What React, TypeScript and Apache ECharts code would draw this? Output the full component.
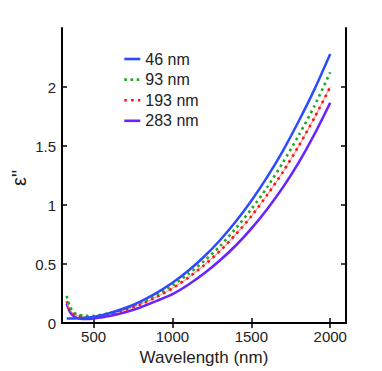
import React, { useEffect, useRef } from "react";
import * as echarts from "echarts";

const wavelengths = [330, 350, 375, 400, 450, 500, 600, 700, 800, 900, 1000, 1100, 1200, 1300, 1400, 1500, 1600, 1700, 1800, 1900, 2000];
const blue46 = [0.04, 0.04, 0.04, 0.041, 0.045, 0.052, 0.084, 0.128, 0.185, 0.256, 0.341, 0.443, 0.562, 0.7, 0.858, 1.037, 1.237, 1.46, 1.71, 1.98, 2.28];
const green93 = [0.23, 0.14, 0.09, 0.072, 0.062, 0.062, 0.085, 0.123, 0.175, 0.24, 0.32, 0.415, 0.525, 0.65, 0.8, 0.965, 1.15, 1.36, 1.59, 1.84, 2.125];
const red193 = [0.185, 0.115, 0.078, 0.062, 0.053, 0.055, 0.077, 0.112, 0.16, 0.222, 0.295, 0.385, 0.49, 0.61, 0.75, 0.905, 1.085, 1.28, 1.5, 1.74, 2.0];
const purple283 = [0.165, 0.095, 0.058, 0.042, 0.035, 0.04, 0.06, 0.092, 0.135, 0.188, 0.245, 0.325, 0.42, 0.53, 0.655, 0.8, 0.965, 1.15, 1.36, 1.6, 1.867];

const seriesNames = ["46 nm", "93 nm", "193 nm", "283 nm"];
const xTicks = [500, 1000, 1500, 2000];
const yTicks = [0, 0.5, 1, 1.5, 2];
const yInnerTicks = [0.5, 1, 1.5, 2];
const yTitle = "ε\"";
const xTitle = "Wavelength (nm)";

const FONT = "Liberation Sans, Arial, sans-serif";

const pairs = (ys: number[]) => wavelengths.map((x, i) => [x, ys[i]]);

export default function App() {
  const ref = useRef<HTMLDivElement>(null);
  useEffect(() => {
    if (!ref.current) return;
    const chart = echarts.init(ref.current, null, { renderer: "svg" });
    const axisLine = { show: true, lineStyle: { color: "#000", width: 2 } };
    const tickStyle = { color: "#000", width: 1.5 };
    const common = { smooth: 0.25, symbol: "none", showSymbol: false };
    chart.setOption({
      animation: false,
      backgroundColor: "#fff",
      grid: { left: 62, top: 28, right: 36, bottom: 41 },
      legend: {
        data: seriesNames,
        orient: "vertical",
        left: 118,
        top: 46,
        itemWidth: 16,
        itemHeight: 10,
        itemGap: 4.6,
        itemStyle: { opacity: 0 },
        lineStyle: { width: 2.6 },
        textStyle: { fontFamily: FONT, fontSize: 16, color: "#222" },
      },
      graphic: [
        {
          type: "text",
          x: 19,
          y: 178,
          rotation: Math.PI / 2,
          style: {
            text: yTitle,
            font: `20px ${FONT}`,
            fill: "#222",
            align: "center",
            verticalAlign: "middle",
          },
        },
      ],
      xAxis: [
        {
          type: "value",
          min: 300,
          max: 2100,
          position: "bottom",
          name: xTitle,
          nameLocation: "middle",
          nameGap: 23,
          nameTextStyle: { fontFamily: FONT, fontSize: 17, color: "#222" },
          axisLine,
          splitLine: { show: false },
          axisTick: { show: true, inside: true, length: 5, customValues: xTicks, lineStyle: tickStyle },
          axisLabel: {
            customValues: xTicks,
            formatter: (v: number) => String(v),
            fontFamily: FONT,
            fontSize: 15,
            color: "#222",
            margin: 6,
          },
        },
        {
          type: "value",
          min: 300,
          max: 2100,
          position: "top",
          axisLine,
          splitLine: { show: false },
          axisTick: { show: true, inside: true, length: 5, customValues: xTicks, lineStyle: tickStyle },
          axisLabel: { show: false },
        },
      ],
      yAxis: [
        {
          type: "value",
          min: 0,
          max: 2.5,
          position: "left",
          axisLine,
          splitLine: { show: false },
          axisTick: { show: true, inside: true, length: 5, customValues: yInnerTicks, lineStyle: tickStyle },
          axisLabel: {
            customValues: yTicks,
            formatter: (v: number) => String(v),
            fontFamily: FONT,
            fontSize: 15,
            color: "#222",
            margin: 6,
          },
        },
        {
          type: "value",
          min: 0,
          max: 2.5,
          position: "right",
          axisLine,
          splitLine: { show: false },
          axisTick: { show: true, inside: true, length: 5, customValues: yInnerTicks, lineStyle: tickStyle },
          axisLabel: { show: false },
        },
      ],
      series: [
        {
          ...common,
          type: "line",
          name: "46 nm",
          data: pairs(blue46),
          color: "#2b4bff",
          lineStyle: { color: "#2b4bff", width: 2.5 },
          z: 5,
        },
        {
          ...common,
          type: "line",
          name: "93 nm",
          data: pairs(green93),
          color: "#1faa1f",
          lineStyle: { color: "#1faa1f", width: 2.6, type: [2.6, 3.6], cap: "butt" },
          z: 4,
        },
        {
          ...common,
          type: "line",
          name: "193 nm base",
          data: pairs(red193),
          color: "#ff9a9a",
          lineStyle: { color: "#ff9a9a", width: 1.2 },
          z: 2,
        },
        {
          ...common,
          type: "line",
          name: "193 nm",
          data: pairs(red193),
          color: "#ff1414",
          lineStyle: { color: "#ff1414", width: 2.6, type: [2.6, 4.2], cap: "butt" },
          z: 3,
        },
        {
          ...common,
          type: "line",
          name: "283 nm",
          data: pairs(purple283),
          color: "#6a24ff",
          lineStyle: { color: "#6a24ff", width: 2.6 },
          z: 1,
        },
      ],
    });
    return () => chart.dispose();
  }, []);
  return <div ref={ref} style={{ width: 382, height: 371, marginLeft: -8, marginTop: -8 }} />;
}
